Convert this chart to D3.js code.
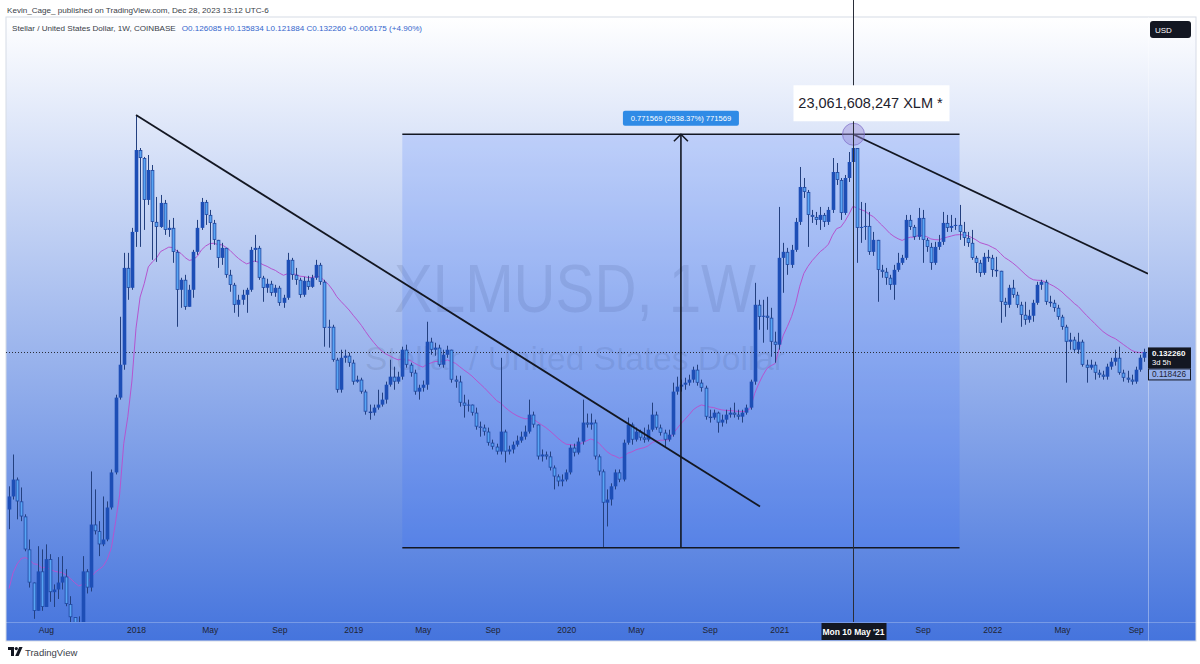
<!DOCTYPE html>
<html>
<head>
<meta charset="utf-8">
<script src="https://cdn.jsdelivr.net/npm/d3@7"></script>
<style>
  body { margin: 0; background: #fff; }
  svg { display: block; font-family: "Liberation Sans", Arial, sans-serif; }
</style>
</head>
<body>
<svg id="chart" width="1200" height="664"></svg>
<script>
////////////////////
// DATA (weekly XLM / USD)
////////////////////
const firstWeek = new Date(2017, 4, 29);
const firstOpen = 0.0360;

const closes = [
  0.0401,0.0461,0.0385,0.0340,0.0259,0.0197,0.0156,0.0216,0.0161,0.0239,
  0.0182,0.0186,0.0197,0.0207,0.0165,0.0148,0.0136,0.0139,0.0216,0.0189,
  0.0318,0.0301,0.0270,0.0281,0.0366,0.0489,0.0907,0.1190,0.2647,0.2246,
  0.3563,0.7006,0.6558,0.4639,0.5941,0.3870,0.3712,0.4526,0.3622,0.3684,
  0.3022,0.2209,0.2399,0.1920,0.2209,0.3022,0.3684,0.4563,0.4099,0.3837,
  0.3336,0.2876,0.3123,0.2500,0.2302,0.1952,0.2034,0.2120,0.2209,0.3072,
  0.3123,0.2440,0.2246,0.2321,0.2155,0.2246,0.1984,0.2068,0.2829,0.2500,
  0.2399,0.2120,0.2379,0.2264,0.2440,0.2714,0.2360,0.1614,0.1628,0.1240,
  0.0968,0.1260,0.1282,0.1210,0.1035,0.1052,0.0953,0.0808,0.0801,0.0835,
  0.0856,0.0892,0.1009,0.1078,0.1035,0.1078,0.1347,0.1190,0.1114,0.0953,
  0.0984,0.1009,0.1439,0.1347,0.1370,0.1190,0.1292,0.1347,0.1052,0.1035,
  0.0870,0.0849,0.0856,0.0801,0.0714,0.0708,0.0685,0.0625,0.0605,0.0581,
  0.0685,0.0581,0.0591,0.0615,0.0636,0.0657,0.0685,0.0788,0.0726,0.0558,
  0.0567,0.0558,0.0509,0.0473,0.0454,0.0461,0.0489,0.0600,0.0576,0.0631,
  0.0738,0.0726,0.0738,0.0558,0.0493,0.0381,0.0391,0.0436,0.0489,0.0461,
  0.0625,0.0726,0.0641,0.0685,0.0652,0.0641,0.0696,0.0788,0.0708,0.0679,
  0.0641,0.0668,0.0953,0.0993,0.1009,0.1026,0.1052,0.1142,0.1026,0.0984,
  0.0775,0.0769,0.0801,0.0738,0.0756,0.0788,0.0801,0.0788,0.0775,0.0801,
  0.0835,0.1035,0.1952,0.1768,0.1783,0.1754,0.1439,0.1404,0.2876,0.3022,
  0.2714,0.3072,0.3870,0.5163,0.4955,0.4099,0.4032,0.3934,0.4099,0.3870,
  0.4272,0.5843,0.5471,0.4167,0.5562,0.6346,0.7123,0.3684,0.3712,0.3743,
  0.3022,0.3336,0.2605,0.2563,0.2440,0.2302,0.2605,0.2760,0.2876,0.3934,
  0.3712,0.3420,0.3999,0.3336,0.3148,0.2760,0.3148,0.3282,0.3837,0.3684,
  0.3743,0.3775,0.3563,0.3391,0.3255,0.2876,0.2760,0.2541,0.2900,0.2876,
  0.2605,0.2584,0.2001,0.1952,0.2246,0.2120,0.1952,0.1797,0.1725,0.1783,
  0.1984,0.2302,0.2360,0.2001,0.1984,0.1904,0.1768,0.1628,0.1439,0.1463,
  0.1347,0.1439,0.1190,0.1161,0.1190,0.1114,0.1096,0.1078,0.1171,0.1220,
  0.1260,0.1114,0.1069,0.1052,0.1035,0.1142,0.126085,0.132260
];

const highs = [
  0.0436,0.0567,0.0469,0.0432,0.0346,0.0281,0.0197,0.0266,0.0259,0.0270,
  0.0249,0.0194,0.0243,0.0245,0.0220,0.0176,0.0148,0.0149,0.0245,0.0220,
  0.0493,0.0425,0.0327,0.0401,0.0385,0.0501,0.0929,0.1768,0.2997,0.2997,
  0.3684,0.9351,0.7123,0.6616,0.6723,0.6191,0.4755,0.4834,0.4639,0.3934,
  0.3999,0.3072,0.2440,0.2500,0.2302,0.3072,0.3934,0.4716,0.4639,0.4272,
  0.3934,0.3336,0.3255,0.3123,0.2605,0.2340,0.2120,0.2209,0.2246,0.3148,
  0.3476,0.3175,0.2479,0.2420,0.2379,0.2302,0.2283,0.2120,0.2997,0.2876,
  0.2647,0.2440,0.2459,0.2479,0.2500,0.2829,0.2760,0.2399,0.1725,0.1655,
  0.1260,0.1347,0.1347,0.1314,0.1240,0.1087,0.1069,0.0968,0.0856,0.0856,
  0.0968,0.0945,0.1035,0.1240,0.1171,0.1123,0.1381,0.1404,0.1210,0.1142,
  0.1009,0.1044,0.1697,0.1487,0.1427,0.1404,0.1347,0.1392,0.1325,0.1087,
  0.1087,0.0929,0.0892,0.0856,0.0835,0.0744,0.0726,0.0708,0.0641,0.0620,
  0.1260,0.0696,0.0610,0.0631,0.0663,0.0685,0.0720,0.0892,0.0808,0.0726,
  0.0591,0.0581,0.0581,0.0518,0.0481,0.0481,0.0501,0.0615,0.0620,0.0652,
  0.0892,0.0795,0.0795,0.0756,0.0567,0.0501,0.0425,0.0447,0.0501,0.0501,
  0.0641,0.0769,0.0738,0.0708,0.0696,0.0708,0.0726,0.0870,0.0808,0.0726,
  0.0696,0.0696,0.1026,0.1078,0.1052,0.1069,0.1096,0.1171,0.1190,0.1052,
  0.1001,0.0821,0.0821,0.0808,0.0788,0.0821,0.0835,0.0870,0.0821,0.0821,
  0.0856,0.1052,0.2340,0.2034,0.2034,0.2085,0.1904,0.1563,0.4379,0.3255,
  0.3123,0.3201,0.3999,0.6090,0.5562,0.5038,0.4272,0.4202,0.4379,0.4167,
  0.4379,0.6558,0.6293,0.5562,0.5701,0.6892,0.797827,0.7123,0.4563,0.4526,
  0.4202,0.3563,0.3336,0.2714,0.2647,0.2500,0.2714,0.2997,0.2948,0.4099,
  0.4099,0.3775,0.4343,0.4272,0.3391,0.3255,0.3282,0.3476,0.4202,0.4099,
  0.4099,0.3999,0.4452,0.3870,0.3563,0.3622,0.2924,0.2829,0.2997,0.3072,
  0.2948,0.2900,0.2541,0.2068,0.2302,0.2399,0.2173,0.2001,0.2001,0.1873,
  0.2034,0.2360,0.2399,0.2399,0.2103,0.2034,0.1952,0.1797,0.1655,0.1549,
  0.1499,0.1549,0.1463,0.1240,0.1240,0.1220,0.1142,0.1132,0.1200,0.1260,
  0.1347,0.1381,0.1142,0.1132,0.1096,0.1171,0.1292,0.135834
];

const lows = [
  0.0306,0.0391,0.0332,0.0327,0.0255,0.0189,0.0146,0.0156,0.0156,0.0162,
  0.0168,0.0161,0.0172,0.0186,0.0162,0.0140,0.0126,0.0128,0.0136,0.0180,
  0.0183,0.0293,0.0245,0.0266,0.0277,0.0360,0.0481,0.0892,0.1142,0.2034,
  0.2209,0.3148,0.3148,0.3622,0.4452,0.2829,0.2782,0.3684,0.3476,0.3420,
  0.2760,0.1628,0.1904,0.1873,0.2001,0.2068,0.2948,0.3622,0.3775,0.3072,
  0.3201,0.2647,0.2714,0.2440,0.2173,0.1827,0.1768,0.1952,0.1827,0.2173,
  0.2782,0.2399,0.2001,0.2155,0.2103,0.2085,0.1936,0.1904,0.2034,0.2399,
  0.2302,0.2068,0.2085,0.2209,0.2246,0.2399,0.2302,0.1381,0.1370,0.1220,
  0.0945,0.0945,0.1210,0.1170,0.1009,0.1026,0.0937,0.0788,0.0756,0.0782,
  0.0821,0.0842,0.0863,0.0993,0.0968,0.1017,0.1052,0.1161,0.1078,0.0929,
  0.0892,0.0953,0.0968,0.1292,0.1282,0.1171,0.1161,0.1260,0.1026,0.0984,
  0.0842,0.0769,0.0808,0.0782,0.0696,0.0657,0.0663,0.0610,0.0591,0.0567,
  0.0567,0.0531,0.0567,0.0572,0.0605,0.0625,0.0641,0.0674,0.0708,0.0544,
  0.0535,0.0544,0.0497,0.0425,0.0436,0.0436,0.0454,0.0481,0.0558,0.0567,
  0.0615,0.0708,0.0696,0.0544,0.0477,0.026258,0.0313,0.0372,0.0425,0.0451,
  0.0454,0.0615,0.0615,0.0631,0.0636,0.0625,0.0631,0.0685,0.0696,0.0663,
  0.0605,0.0631,0.0657,0.0929,0.0953,0.0968,0.1001,0.1026,0.1001,0.0953,
  0.0756,0.0738,0.0756,0.0679,0.0714,0.0732,0.0769,0.0769,0.0756,0.0738,
  0.0788,0.0821,0.1009,0.1588,0.1427,0.1588,0.1271,0.1210,0.1347,0.2155,
  0.2500,0.2647,0.3022,0.3775,0.4716,0.3148,0.3837,0.3775,0.3622,0.3712,
  0.3775,0.4167,0.5250,0.3934,0.4099,0.5381,0.6191,0.2760,0.3255,0.3336,
  0.2948,0.2924,0.2001,0.2440,0.2302,0.2209,0.2034,0.2563,0.2714,0.2829,
  0.3622,0.3336,0.3336,0.2760,0.3022,0.2605,0.2714,0.3072,0.3201,0.3563,
  0.3563,0.3622,0.3336,0.3175,0.3148,0.2829,0.2541,0.2459,0.2500,0.2782,
  0.2459,0.2459,0.1683,0.1768,0.1904,0.2068,0.1904,0.1628,0.1655,0.1683,
  0.1697,0.1952,0.2209,0.1952,0.1920,0.1843,0.1725,0.1588,0.1026,0.1347,
  0.1325,0.1303,0.1171,0.1026,0.1142,0.1052,0.1069,0.1052,0.1052,0.1142,
  0.1181,0.1096,0.1035,0.1026,0.1009,0.1017,0.1123,0.121884
];

// moving average (EMA 20) and its value at the left edge of the picture
const maLength = 20;
const maSeed = 0.0165;

// axis ticks
const priceTicks = [1.6, 1.3, 1.05, 0.85, 0.7, 0.55, 0.45, 0.37, 0.31, 0.25, 0.21, 0.17, 0.14,
  0.095, 0.08, 0.065, 0.053, 0.043, 0.036, 0.03, 0.025, 0.021, 0.0175, 0.0147];
const timeTickDates = [new Date(2017, 6, 31), new Date(2018, 0, 1), new Date(2018, 4, 7), new Date(2018, 8, 3),
  new Date(2019, 0, 7), new Date(2019, 4, 6), new Date(2019, 8, 2), new Date(2020, 0, 6), new Date(2020, 4, 4),
  new Date(2020, 8, 7), new Date(2021, 0, 4), new Date(2021, 8, 6), new Date(2022, 0, 3), new Date(2022, 4, 2),
  new Date(2022, 8, 5)];
const timeTickLabels = ["Aug", "2018", "May", "Sep", "2019", "May", "Sep", "2020", "May", "Sep", "2021", "Sep", "2022", "May", "Sep"];

// drawings on the chart (bar index, price)
const trendA = [{ bar: 31, price: 0.9351 }, { bar: 183.3, price: 0.0369 }];
const trendB = [{ bar: 206, price: 0.797827 }, { bar: 278, price: 0.2521 }];
const rangeBox = { from: 96, to: 232, low: 0.026258, high: 0.797827, arrowBar: 164 };
const rangeLabel = "0.771569 (2938.37%) 771569";
const markerBar = 206;
const markerLabel = "23,061,608,247 XLM *";
const lastPrice = 0.132260;
const hoverPrice = "0.118426";

const headerTitle = "Kevin_Cage_ published on TradingView.com, Dec 28, 2023 13:12 UTC-6";
const symbolLine = "Stellar / United States Dollar, 1W, COINBASE";
const ohlcLine = "O0.126085 H0.135834 L0.121884 C0.132260 +0.006175 (+4.90%)";


////////////////////
// LAYOUT
////////////////////
const WEEK = 7 * 24 * 3600 * 1000;
const panel = { left: 6, top: 17, right: 1196, bottom: 641 };
const plot = { left: 6, top: 17, right: 1148, bottom: 622 };

const bars = closes.map(function(c, i) {
  let o = i === 0 ? firstOpen : closes[i - 1];
  return {
    i: i,
    date: new Date(firstWeek.getTime() + i * WEEK),
    open: o,
    close: c,
    high: Math.max(highs[i], o, c),
    low: Math.min(lows[i], o, c)
  };
});

// EMA of closes
let ema = maSeed;
const alpha = 2 / (maLength + 1);
bars.forEach(function(d) {
  ema = ema + alpha * (d.close - ema);
  d.ma = ema;
});

const barDate = i => new Date(firstWeek.getTime() + i * WEEK);

const x = d3.scaleTime()
  .domain([bars[0].date, bars[bars.length - 1].date])
  .range([9, 1143.9]);

const y = d3.scaleLog()
  .domain([0.0147, 1.6])
  .range([618, 50]);

const svg = d3.select("#chart");
const defs = svg.append("defs");

const grad = defs.append("linearGradient")
  .attr("id", "bg")
  .attr("gradientUnits", "userSpaceOnUse")
  .attr("x1", 0).attr("y1", panel.top)
  .attr("x2", 0).attr("y2", panel.bottom);
grad.append("stop").attr("offset", "0%").attr("stop-color", "#ffffff");
grad.append("stop").attr("offset", "100%").attr("stop-color", "#4574dd");

defs.append("clipPath").attr("id", "plotClip")
  .append("rect")
  .attr("x", plot.left).attr("y", plot.top)
  .attr("width", plot.right - plot.left).attr("height", plot.bottom - plot.top);

defs.append("clipPath").attr("id", "axisClip")
  .append("rect")
  .attr("x", plot.right).attr("y", plot.top)
  .attr("width", panel.right - plot.right).attr("height", plot.bottom - plot.top);

// panel background
svg.append("rect")
  .attr("x", panel.left).attr("y", panel.top)
  .attr("width", panel.right - panel.left).attr("height", panel.bottom - panel.top)
  .attr("fill", "url(#bg)")
  .attr("stroke", "#d6dbe6")
  .attr("stroke-width", 1);

// separators
svg.append("line")
  .attr("x1", plot.right + 0.5).attr("x2", plot.right + 0.5)
  .attr("y1", panel.top).attr("y2", panel.bottom)
  .attr("stroke", "#ffffff").attr("stroke-opacity", 0.35);
svg.append("line")
  .attr("x1", panel.left).attr("x2", panel.right)
  .attr("y1", plot.bottom + 0.5).attr("y2", plot.bottom + 0.5)
  .attr("stroke", "#ffffff").attr("stroke-opacity", 0.25);


////////////////////
// HEADER / FOOTER
////////////////////
svg.append("text")
  .attr("x", 7).attr("y", 13)
  .attr("font-size", 8.1).attr("fill", "#3a3e48")
  .text(headerTitle);

const sym = svg.append("text")
  .attr("x", 12).attr("y", 31)
  .attr("font-size", 8.1).attr("fill", "#3a3e48");
sym.append("tspan").text(symbolLine);
sym.append("tspan").attr("dx", 6).attr("fill", "#3566cc").text(ohlcLine);

const logo = svg.append("g").attr("transform", "translate(8,647)").attr("fill", "#131722");
logo.append("path").attr("d", "M0,0 H6 V9 H3 V3 H0 Z");
logo.append("circle").attr("cx", 8.3).attr("cy", 1.6).attr("r", 1.6);
logo.append("path").attr("d", "M11.2,0 H14.6 L10.6,9 H7.2 Z");
svg.append("text")
  .attr("x", 25).attr("y", 656)
  .attr("font-size", 9.5).attr("fill", "#3a3e48")
  .text("TradingView");


////////////////////
// PLOT
////////////////////
const g = svg.append("g").attr("clip-path", "url(#plotClip)");

// watermark
g.append("text")
  .attr("x", 575).attr("y", 312)
  .attr("text-anchor", "middle")
  .attr("font-size", 68)
  .attr("textLength", 362).attr("lengthAdjust", "spacingAndGlyphs")
  .attr("fill", "#4b5a7e").attr("fill-opacity", 0.16)
  .text("XLMUSD, 1W");
g.append("text")
  .attr("x", 575).attr("y", 370)
  .attr("text-anchor", "middle")
  .attr("font-size", 34)
  .attr("textLength", 420).attr("lengthAdjust", "spacingAndGlyphs")
  .attr("fill", "#4b5a7e").attr("fill-opacity", 0.16)
  .text("Stellar / United States Dollar");

// price range fill
g.append("rect")
  .attr("x", x(barDate(rangeBox.from)))
  .attr("y", y(rangeBox.high))
  .attr("width", x(barDate(rangeBox.to)) - x(barDate(rangeBox.from)))
  .attr("height", y(rangeBox.low) - y(rangeBox.high))
  .attr("fill", "#2962ff").attr("fill-opacity", 0.17);

// moving average
g.append("path")
  .datum(bars)
  .attr("fill", "none")
  .attr("stroke", "#b455cf")
  .attr("stroke-width", 1)
  .attr("d", d3.line().x(d => x(d.date)).y(d => y(d.ma)));

// last price line
g.append("line")
  .attr("x1", plot.left).attr("x2", plot.right)
  .attr("y1", Math.round(y(lastPrice)) + 0.5).attr("y2", Math.round(y(lastPrice)) + 0.5)
  .attr("stroke", "#2a2e39").attr("stroke-width", 1)
  .attr("stroke-dasharray", "1,2");

// candles
const wickX = d => Math.round(x(d.date)) + 0.5;
const candle = g.append("g").selectAll("g")
  .data(bars)
  .enter()
  .append("g");

candle.append("line")
  .attr("x1", wickX)
  .attr("x2", wickX)
  .attr("y1", d => y(d.high))
  .attr("y2", d => y(d.low))
  .attr("stroke", "#23407f")
  .attr("stroke-width", 1);

// up weeks: solid dark blue body
candle.filter(d => d.close >= d.open)
  .append("rect")
  .attr("x", d => wickX(d) - 1.8)
  .attr("y", d => y(d.close))
  .attr("width", 3.6)
  .attr("height", d => Math.max(1, y(d.open) - y(d.close)))
  .attr("fill", "#1d4eb6");

// down weeks: light blue body with a dark edge
candle.filter(d => d.close < d.open)
  .append("rect")
  .attr("x", d => wickX(d) - 1.4)
  .attr("y", d => y(d.open) + 0.4)
  .attr("width", 2.8)
  .attr("height", d => Math.max(0.6, y(d.close) - y(d.open) - 0.8))
  .attr("fill", "#58a5f5")
  .attr("stroke", "#1f46a0")
  .attr("stroke-width", 0.8);

// trend lines
[trendA, trendB].forEach(function(t) {
  g.append("line")
    .attr("x1", x(barDate(t[0].bar))).attr("y1", y(t[0].price))
    .attr("x2", x(barDate(t[1].bar))).attr("y2", y(t[1].price))
    .attr("stroke", "#131722").attr("stroke-width", 1.8);
});

// price range lines + arrow
const rx1 = x(barDate(rangeBox.from));
const rx2 = x(barDate(rangeBox.to));
const ax = x(barDate(rangeBox.arrowBar));
[rangeBox.high, rangeBox.low].forEach(function(p) {
  g.append("line")
    .attr("x1", rx1).attr("x2", rx2)
    .attr("y1", y(p)).attr("y2", y(p))
    .attr("stroke", "#131722").attr("stroke-width", 1.6);
});
g.append("line")
  .attr("x1", ax).attr("x2", ax)
  .attr("y1", y(rangeBox.low)).attr("y2", y(rangeBox.high))
  .attr("stroke", "#131722").attr("stroke-width", 1.6);
g.append("path")
  .attr("d", `M${ax - 7},${y(rangeBox.high) + 7} L${ax},${y(rangeBox.high)} L${ax + 7},${y(rangeBox.high) + 7}`)
  .attr("fill", "none").attr("stroke", "#131722").attr("stroke-width", 1.6);

// marker vertical line
const mx = Math.round(x(barDate(markerBar))) + 0.5;
svg.append("line")
  .attr("x1", mx).attr("x2", mx)
  .attr("y1", 0).attr("y2", plot.bottom)
  .attr("stroke", "#2a2e39").attr("stroke-width", 1);

// circle at the high
g.append("circle")
  .attr("cx", mx).attr("cy", y(rangeBox.high))
  .attr("r", 11)
  .attr("fill", "#9b8fd6").attr("fill-opacity", 0.45)
  .attr("stroke", "#7d6cc8").attr("stroke-opacity", 0.7);

// range label
const rl = svg.append("g").attr("transform", `translate(${ax},${y(rangeBox.high) - 16})`);
rl.append("rect")
  .attr("x", -58).attr("y", -7.5).attr("width", 116).attr("height", 15).attr("rx", 2)
  .attr("fill", "#2f8be6");
rl.append("text")
  .attr("text-anchor", "middle").attr("dy", "0.35em")
  .attr("font-size", 7.6).attr("fill", "#ffffff")
  .text(rangeLabel);

// marker label
const ml = svg.append("g").attr("transform", `translate(${mx},${y(rangeBox.high) - 31})`);
ml.append("rect")
  .attr("x", -60).attr("y", -18).attr("width", 156).attr("height", 36)
  .attr("fill", "#ffffff");
ml.append("text")
  .attr("x", 17).attr("text-anchor", "middle").attr("dy", "0.35em")
  .attr("font-size", 14.5).attr("fill", "#1e222d")
  .text(markerLabel);


////////////////////
// AXES
////////////////////
const yAxis = svg.append("g")
  .attr("transform", `translate(${plot.right},0)`)
  .attr("clip-path", "url(#axisClip)")
  .call(d3.axisRight(y).tickValues(priceTicks).tickFormat(d3.format(".6f")).tickSize(0).tickPadding(5));
yAxis.select(".domain").remove();
yAxis.selectAll("text")
  .attr("font-family", "Liberation Sans, Arial, sans-serif")
  .attr("font-size", 8.5).attr("fill", "#1f2433")
  .attr("dy", d => d === 0.14 ? "0.1em" : "0.32em");

const xAxis = svg.append("g")
  .attr("transform", `translate(0,${plot.bottom})`)
  .call(d3.axisBottom(x).tickValues(timeTickDates).tickFormat((d, i) => timeTickLabels[i]).tickSize(0).tickPadding(5));
xAxis.select(".domain").remove();
xAxis.selectAll("text")
  .attr("font-family", "Liberation Sans, Arial, sans-serif")
  .attr("font-size", 8.5).attr("fill", "#1f2433");

// USD badge
svg.append("rect")
  .attr("x", 1150).attr("y", 21).attr("width", 41).attr("height", 17).attr("rx", 3)
  .attr("fill", "#131722");
svg.append("text")
  .attr("x", 1155).attr("y", 32.5)
  .attr("font-size", 8).attr("fill", "#ffffff")
  .text("USD");

// last price badge
const lp = y(lastPrice);
svg.append("rect")
  .attr("x", 1148).attr("y", lp - 4.5).attr("width", 43).attr("height", 21)
  .attr("fill", "#131722");
svg.append("text")
  .attr("x", 1152).attr("y", lp + 4.5)
  .attr("font-size", 8).attr("font-weight", "bold").attr("fill", "#ffffff")
  .text(d3.format(".6f")(lastPrice));
svg.append("text")
  .attr("x", 1152).attr("y", lp + 13.5)
  .attr("font-size", 7.6).attr("fill", "#ffffff")
  .text("3d 5h");
svg.append("rect")
  .attr("x", 1148.5).attr("y", lp + 17).attr("width", 42).attr("height", 11)
  .attr("fill", "none").attr("stroke", "#131722").attr("stroke-width", 1);
svg.append("text")
  .attr("x", 1152).attr("y", lp + 25.5)
  .attr("font-size", 8.3).attr("fill", "#1f2433")
  .text(hoverPrice);

// time badge for the marker
const tb = svg.append("g").attr("transform", `translate(${mx},${plot.bottom})`);
tb.append("rect")
  .attr("x", -32).attr("y", 1).attr("width", 65).attr("height", 17)
  .attr("fill", "#131722");
tb.append("text")
  .attr("text-anchor", "middle").attr("y", 12.5)
  .attr("font-size", 8.5).attr("font-weight", "bold").attr("fill", "#ffffff")
  .text("Mon 10 May '21");
</script>
</body>
</html>
